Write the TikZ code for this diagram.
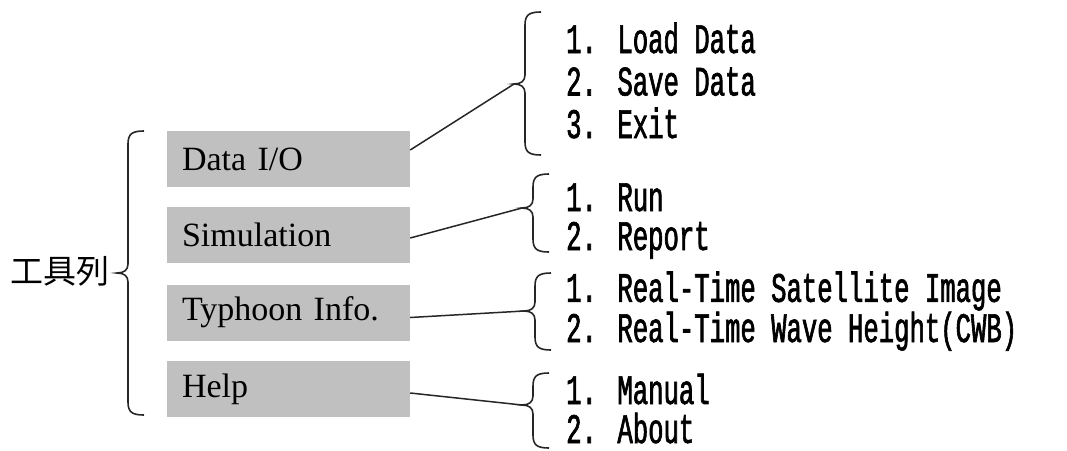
\documentclass[tikz,border=0pt]{standalone}
\usepackage{fontspec}
\setmainfont{Liberation Serif}
\newfontfamily\menufont[FakeStretch=0.61,FakeBold=1.5]{Liberation Mono}
\newfontfamily\cjk{Noto Sans CJK TC}
\definecolor{boxgray}{RGB}{192,192,192}

\tikzset{
  menubox/.style={fill=boxgray,minimum width=243pt,minimum height=56pt,text width=213pt,inner xsep=15pt,align=left,font=\fontsize{34}{40}\selectfont},
  itemlist/.style={anchor=base west,inner sep=0pt,align=left,font=\menufont\fontsize{42}{#1}\selectfont},
  itemlist/.default=39,
  link/.style={line width=1.5pt,black!85},
  curly/.style={line width=1.6pt,black!85}
}

% x, top, tip y, bottom, name of the tip
\newcommand{\menubrace}[5]{%
  \draw[curly] (#1+16,#2) .. controls (#1+4,#2) and (#1,#2+3) .. (#1,#2+13)
    -- (#1,#3-9) .. controls (#1,#3-3) and (#1-4,#3) .. (#1-11,#3) coordinate (#5)
    .. controls (#1-4,#3) and (#1,#3+3) .. (#1,#3+9)
    -- (#1,#4-13) .. controls (#1,#4-3) and (#1+4,#4) .. (#1+16,#4);}

\begin{document}
\begin{tikzpicture}[x=1pt,y=-1pt]
\useasboundingbox (0,0) rectangle (1067,450);

\node (bar) at (110,271) [anchor=east,inner sep=0pt,font=\cjk\fontsize{33}{33}\selectfont] {工具列};
\menubrace{128}{131}{273}{415}{bartip}

\node (io) at (288.5,159) [menubox] {Data I/O};
\node (sim) at (288.5,235) [menubox] {Simulation};
\node (typh) at (288.5,312.5) [menubox] {Typhoon Info.};
\node (help) at (288.5,389) [menubox] {Help};

\menubrace{525}{12}{84}{155}{iotip}
\menubrace{533}{174}{208}{252}{simtip}
\menubrace{535}{273}{311}{350}{typhtip}
\menubrace{533}{373}{405}{448}{helptip}

% base is the last line of each list
\node (iolist) at (566,138) [itemlist=42.5] {1. Load Data\\2. Save Data\\3. Exit};
\node (simlist) at (566,250) [itemlist] {1. Run\\2. Report};
\node (typhlist) at (566,342) [itemlist] {1. Real-Time Satellite Image\\2. Real-Time Wave Height(CWB)};
\node (helplist) at (566,443) [itemlist] {1. Manual\\2. About};

\draw[link] ([yshift=9pt]io.east) -- (iotip);
\draw[link] ([yshift=-3pt]sim.east) -- (simtip);
\draw[link] ([yshift=-5pt]typh.east) -- (typhtip);
\draw[link] ([yshift=-4pt]help.east) -- (helptip);

\end{tikzpicture}
\end{document}
